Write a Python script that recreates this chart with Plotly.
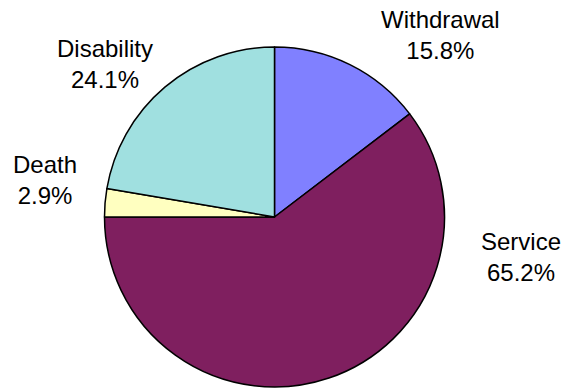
import plotly.graph_objects as go

# Benefit type shares (percent)
categories = ["Withdrawal", "Service", "Death", "Disability"]
shares = [15.8, 65.2, 2.9, 24.1]
colors = ["#8080FF", "#7F1F5F", "#FFFFC0", "#A0E0E0"]

# Label anchor points in pixels (centre of each two-line label block)
W, H = 566, 389
label_px = [(440, 35), (521, 257), (45, 180), (105, 64)]

fig = go.Figure(
    go.Pie(
        labels=categories,
        values=shares,
        sort=False,
        direction="clockwise",
        rotation=0,
        marker=dict(colors=colors, line=dict(color="black", width=1.5)),
        textinfo="none",
        hoverinfo="label+value",
        showlegend=False,
        domain=dict(x=[(274.5 - 170) / W, (274.5 + 170) / W],
                    y=[1 - 387 / H, 1 - 47 / H]),
    )
)

for name, val, (px, py) in zip(categories, shares, label_px):
    fig.add_annotation(
        x=px / W, y=1 - py / H, xref="paper", yref="paper",
        text=f"{name}<br>{val:.1f}%",
        showarrow=False, xanchor="center", yanchor="middle", align="center",
        font=dict(family="Liberation Sans, Arial, sans-serif", size=24, color="black"),
    )

fig.update_layout(
    width=W, height=H,
    margin=dict(l=0, r=0, t=0, b=0),
    paper_bgcolor="white",
    plot_bgcolor="white",
)

fig.write_html("out.html")
